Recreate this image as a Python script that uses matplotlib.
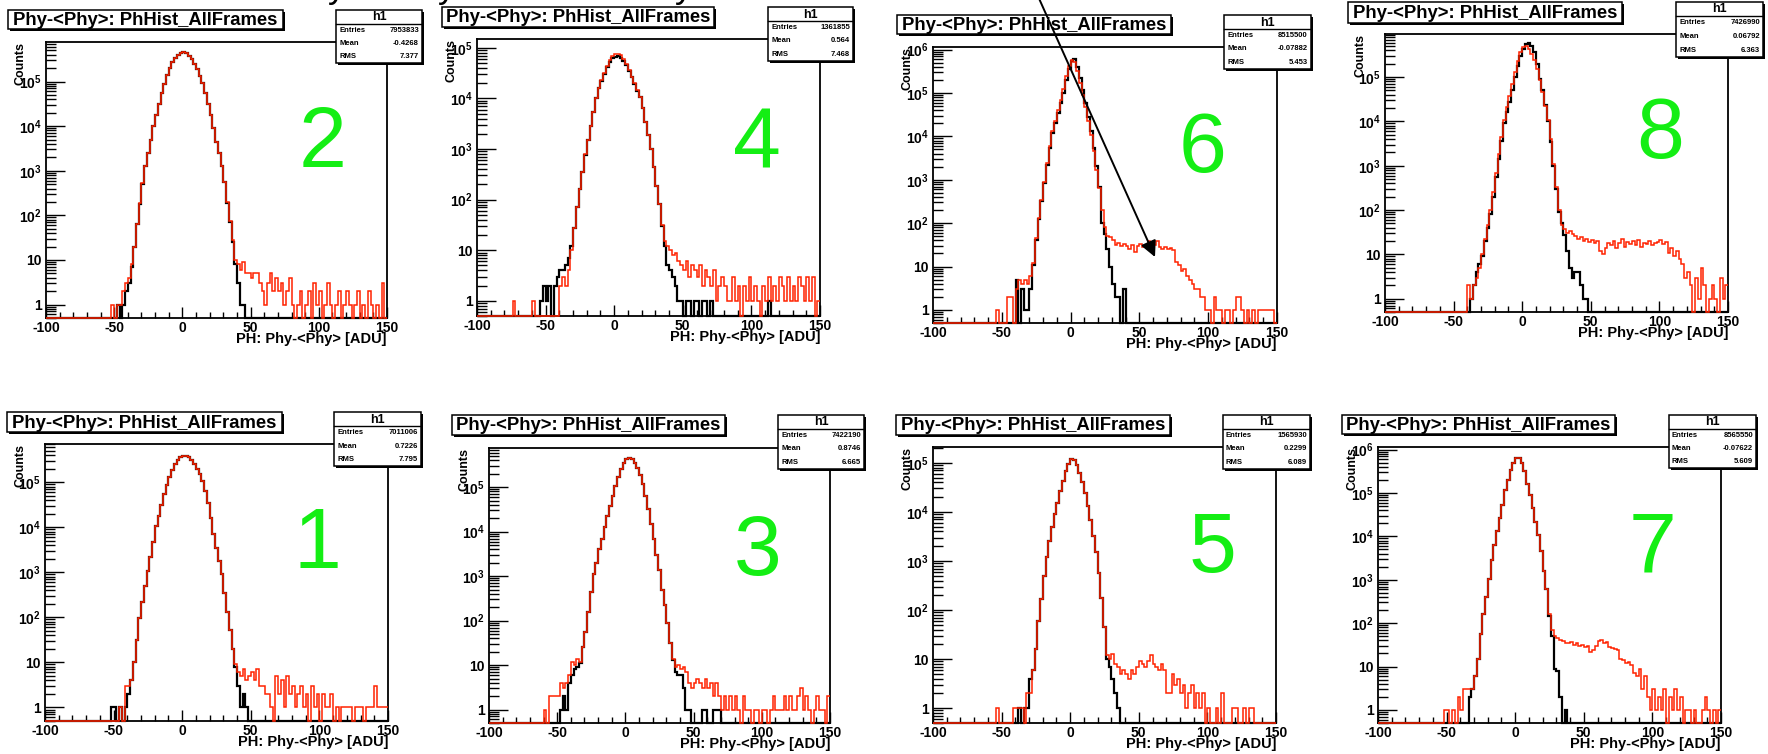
"""Eight ROOT-style pulse-height histograms (Phy-<Phy>), black vs red, log y."""
import numpy as np
import matplotlib
matplotlib.use("Agg")
import matplotlib.pyplot as plt
import matplotlib.ticker as ticker
from matplotlib.patches import Rectangle, FancyArrowPatch

plt.rcParams["font.family"] = ["Liberation Sans", "DejaVu Sans"]
plt.rcParams["font.weight"] = "bold"
plt.rcParams["mathtext.fontset"] = "custom"
plt.rcParams["mathtext.rm"] = "Liberation Sans:bold"
plt.rcParams["mathtext.it"] = "Liberation Sans:bold"
plt.rcParams["mathtext.bf"] = "Liberation Sans:bold"
plt.rcParams["axes.unicode_minus"] = False

# 2 ADU bins; first listed bin is -80..-78, last 148..150 (115 bins)
BIN_LO, BIN_HI, BIN_W = -80, 150, 2
X_MIN, X_MAX = -100, 150
YMIN = 0.5

BLACK_1 = [
    0, 0, 0, 0, 0, 0, 0, 0, 0, 0,
    0, 0, 0, 0, 1, 1, 0, 1, 0, 1,
    2, 4, 10, 32, 95, 220, 500, 1070, 2200, 4800,
    1.05e4, 1.8e4, 3.2e4, 5.4e4, 8.7e4, 1.3e5, 1.9e5, 2.5e5, 3.2e5, 3.6e5,
    3.9e5, 3.85e5, 3.6e5, 3.2e5, 2.6e5, 2e5, 1.5e5, 1.07e5, 6.3e4, 3.4e4,
    1.6e4, 7e3, 3.5e3, 1.8e3, 900, 350, 130, 52, 20, 8,
    3, 1, 2, 1, 0, 0, 0, 0, 0, 0,
    0, 0, 0, 0, 0, 0, 0, 0, 0, 0,
    0, 0, 0, 0, 0, 0, 0, 0, 0, 0,
    0, 0, 0, 0, 0, 0, 0, 0, 0, 0,
    0, 0, 0, 0, 0, 0, 0, 0, 0, 0,
    0, 0, 0, 0, 0,
]
RED_1 = [
    0, 0, 0, 0, 0, 0, 0, 0, 0, 0,
    0, 0, 0, 0, 0, 0, 0, 1, 0, 3,
    3, 4, 10, 32, 95, 220, 500, 1070, 2200, 4800,
    1.05e4, 1.8e4, 3.2e4, 5.4e4, 8.7e4, 1.3e5, 1.9e5, 2.5e5, 3.2e5, 3.6e5,
    3.9e5, 3.85e5, 3.6e5, 3.2e5, 2.6e5, 2e5, 1.5e5, 1.07e5, 6.3e4, 3.4e4,
    1.6e4, 7e3, 3.5e3, 1.8e3, 900, 350, 130, 52, 20, 9,
    6, 5, 7, 4, 5, 6, 4, 7, 3, 3,
    2, 2, 1, 0, 5, 2, 4, 1, 5, 2,
    3, 1, 2, 3, 1, 2, 0, 3, 1, 2,
    0, 2, 1, 1, 2, 0, 1, 0, 1, 1,
    1, 1, 0, 1, 1, 1, 0, 1, 1, 1,
    3, 1, 1, 1, 1,
]
BLACK_2 = [
    0, 0, 0, 0, 0, 0, 0, 0, 0, 0,
    0, 0, 0, 0, 0, 0, 1, 0, 1, 2,
    3, 7, 20, 63, 180, 500, 1260, 2500, 5000, 1e4,
    1.8e4, 3.2e4, 5.6e4, 9e4, 1.4e5, 2e5, 2.7e5, 3.4e5, 4e5, 4.4e5,
    4.5e5, 4.3e5, 3.8e5, 3.2e5, 2.5e5, 1.9e5, 1.3e5, 9.5e4, 5.6e4, 3.2e4,
    1.8e4, 9e3, 4.5e3, 2.5e3, 1.3e3, 560, 190, 70, 25, 8,
    3, 1, 1, 0, 0, 0, 0, 0, 0, 0,
    0, 0, 0, 0, 0, 0, 0, 0, 0, 0,
    0, 0, 0, 0, 0, 0, 0, 0, 0, 0,
    0, 0, 0, 0, 0, 0, 0, 0, 0, 0,
    0, 0, 0, 0, 0, 0, 0, 0, 0, 0,
    0, 0, 0, 0, 0,
]
RED_2 = [
    0, 0, 0, 0, 0, 0, 0, 0, 0, 0,
    0, 0, 0, 0, 1, 0, 1, 1, 2, 3,
    4, 8, 20, 63, 190, 520, 1260, 2500, 5000, 1e4,
    1.8e4, 3.2e4, 5.6e4, 9e4, 1.4e5, 2e5, 2.7e5, 3.4e5, 4e5, 4.4e5,
    4.5e5, 4.3e5, 3.8e5, 3.2e5, 2.5e5, 1.9e5, 1.3e5, 9.5e4, 5.6e4, 3.2e4,
    1.8e4, 9e3, 4.5e3, 2.5e3, 1.3e3, 560, 200, 75, 28, 10,
    8, 6, 9, 5, 5, 4, 5, 5, 3, 2,
    1, 3, 5, 2, 4, 2, 3, 1, 2, 4,
    1, 0, 1, 2, 0, 1, 2, 0, 3, 1,
    2, 0, 1, 3, 1, 0, 1, 2, 0, 1,
    2, 1, 0, 1, 2, 0, 1, 0, 2, 1,
    0, 1, 0, 3, 0,
]
BLACK_3 = [
    0, 0, 0, 0, 0, 0, 0, 0, 0, 0,
    0, 0, 0, 0, 0, 0, 1, 2, 1, 4,
    6, 8, 9, 11, 25, 56, 160, 450, 1100, 2000,
    4e3, 7e3, 1.3e4, 2.2e4, 3.7e4, 6.3e4, 1.07e5, 1.7e5, 2.5e5, 3.5e5,
    4.3e5, 4.6e5, 4.4e5, 3.5e5, 2.7e5, 1.9e5, 1.2e5, 6.3e4, 3.2e4, 1.5e4,
    6.8e3, 3e3, 1.35e3, 500, 220, 90, 32, 13, 7, 6,
    6, 3, 1, 1, 0, 0, 0, 0, 1, 1,
    0, 0, 1, 1, 1, 0, 0, 0, 0, 0,
    0, 0, 0, 0, 0, 0, 0, 0, 0, 0,
    0, 0, 0, 0, 0, 0, 0, 0, 0, 0,
    0, 0, 0, 0, 0, 0, 0, 0, 0, 0,
    0, 0, 0, 0, 0,
]
RED_3 = [
    0, 0, 0, 0, 0, 0, 0, 0, 0, 0,
    1, 0, 2, 2, 2, 2, 4, 3, 4, 6,
    12, 10, 14, 12, 25, 56, 160, 450, 1100, 2000,
    4e3, 7e3, 1.3e4, 2.2e4, 3.7e4, 6.3e4, 1.07e5, 1.7e5, 2.5e5, 3.5e5,
    4.3e5, 4.6e5, 4.4e5, 3.5e5, 2.7e5, 1.9e5, 1.2e5, 6.3e4, 3.2e4, 1.5e4,
    6.8e3, 3e3, 1.35e3, 500, 220, 90, 32, 14, 9, 10,
    8, 9, 7, 4, 3, 4, 5, 4, 3, 5,
    3, 4, 2, 4, 2, 1, 2, 1, 2, 1,
    2, 1, 0, 2, 1, 1, 0, 1, 1, 0,
    1, 1, 0, 1, 2, 1, 1, 1, 2, 1,
    2, 1, 1, 2, 3, 1, 2, 1, 0, 1,
    2, 1, 1, 0, 2,
]
BLACK_4 = [
    0, 0, 0, 0, 0, 0, 0, 0, 0, 0,
    0, 0, 0, 1, 2, 1, 2, 0, 2, 3,
    4, 4, 5, 7, 12, 28, 70, 160, 350, 760,
    1.5e3, 2.8e3, 5.3e3, 1e4, 1.6e4, 2.2e4, 3.1e4, 4.2e4, 5.3e4, 6.2e4,
    6.7e4, 6.8e4, 6.4e4, 5.6e4, 4.6e4, 3.5e4, 2.6e4, 1.9e4, 1.4e4, 1.05e4,
    6.5e3, 3.5e3, 1.9e3, 1e3, 440, 190, 83, 30, 12, 5,
    4, 3, 2, 1, 1, 0, 1, 1, 0, 1,
    1, 0, 1, 1, 0, 1, 0, 0, 0, 0,
    0, 0, 0, 0, 0, 0, 0, 0, 0, 0,
    0, 0, 0, 0, 0, 0, 1, 0, 0, 0,
    0, 0, 0, 0, 0, 0, 0, 0, 0, 0,
    0, 0, 0, 0, 0,
]
RED_4 = [
    0, 0, 0, 1, 0, 0, 0, 0, 0, 0,
    1, 0, 0, 0, 0, 0, 0, 0, 0, 0,
    2, 3, 2, 4, 10, 28, 70, 160, 350, 800,
    1.5e3, 2.9e3, 5.5e3, 1e4, 1.6e4, 2.3e4, 3.2e4, 4.3e4, 5.7e4, 6.8e4,
    7.5e4, 7.6e4, 7.1e4, 6e4, 4.8e4, 3.6e4, 2.7e4, 2e4, 1.45e4, 1.07e4,
    6.5e3, 3.5e3, 1.9e3, 1e3, 440, 190, 83, 32, 15, 12,
    10, 8, 9, 6, 5, 4, 6, 3, 5, 4,
    3, 5, 2, 4, 3, 2, 4, 1, 2, 3,
    2, 1, 1, 3, 1, 2, 0, 2, 1, 3,
    1, 2, 1, 0, 2, 1, 3, 1, 2, 1,
    3, 2, 1, 3, 1, 2, 1, 3, 2, 1,
    3, 1, 3, 0, 1,
]
BLACK_5 = [
    0, 0, 0, 0, 0, 0, 0, 0, 0, 0,
    0, 0, 0, 0, 0, 0, 0, 0, 0, 0,
    0, 1, 0, 1, 1, 4, 6, 16, 60, 170,
    500, 1.2e3, 2.5e3, 5e3, 9e3, 1.5e4, 2.7e4, 4.3e4, 6.8e4, 9.5e4,
    1.2e5, 1.12e5, 9e4, 6.3e4, 4e4, 2.4e4, 1.35e4, 6.8e3, 3.2e3, 1.5e3,
    560, 180, 45, 10, 7, 4, 2, 1, 0, 0,
    0, 0, 0, 0, 0, 0, 0, 0, 0, 0,
    0, 0, 0, 0, 0, 0, 0, 0, 0, 0,
    0, 0, 0, 0, 0, 0, 0, 0, 0, 0,
    0, 0, 0, 0, 0, 0, 0, 0, 0, 0,
    0, 0, 0, 0, 0, 0, 0, 0, 0, 0,
    0, 0, 0, 0, 0,
]
RED_5 = [
    0, 0, 0, 0, 0, 0, 0, 0, 0, 0,
    0, 0, 0, 1, 0, 0, 0, 0, 0, 1,
    1, 1, 1, 0, 2, 2, 6, 16, 60, 170,
    500, 1.2e3, 2.5e3, 5e3, 9e3, 1.5e4, 2.7e4, 4.3e4, 6.8e4, 9.5e4,
    1.2e5, 1.12e5, 9e4, 6.3e4, 4e4, 2.4e4, 1.35e4, 6.8e3, 3.2e3, 1.5e3,
    560, 180, 45, 12, 10, 13, 8, 7, 5, 6,
    5, 4, 6, 5, 7, 9, 8, 7, 9, 12,
    8, 7, 6, 8, 6, 2, 2, 5, 3, 4,
    2, 3, 1, 2, 3, 1, 2, 1, 2, 0,
    1, 0, 0, 1, 0, 2, 0, 0, 0, 1,
    1, 0, 0, 1, 0, 1, 1, 0, 0, 0,
    0, 0, 0, 0, 0,
]
BLACK_6 = [
    0, 0, 0, 0, 0, 0, 0, 0, 0, 0,
    0, 0, 0, 0, 0, 0, 0, 0, 0, 0,
    5, 0, 3, 1, 1, 3, 11, 40, 126, 320,
    830, 2.2e3, 5.5e3, 1.2e4, 2e4, 3.5e4, 6e4, 1e5, 2e5, 3.5e5,
    5.6e5, 6.2e5, 4e5, 2.2e5, 1.2e5, 6e4, 2.8e4, 1.3e4, 5.4e3, 2.1e3,
    700, 100, 56, 25, 10, 4, 2, 2, 0, 3,
    0, 0, 0, 0, 0, 0, 0, 0, 0, 0,
    0, 0, 0, 0, 0, 0, 0, 0, 0, 0,
    0, 0, 0, 0, 0, 0, 0, 0, 0, 0,
    0, 0, 0, 0, 0, 0, 0, 0, 0, 0,
    0, 0, 0, 0, 0, 0, 0, 0, 0, 0,
    0, 0, 0, 0, 0,
]
RED_6 = [
    0, 0, 0, 0, 0, 0, 0, 0, 0, 0,
    0, 0, 0, 1, 0, 0, 0, 2, 2, 0,
    3, 5, 4, 5, 4, 6, 12, 45, 130, 350,
    900, 2.4e3, 6e3, 1.3e4, 2.3e4, 4e4, 7e4, 1.25e5, 2.5e5, 4.3e5,
    5.8e5, 5.2e5, 3.2e5, 1.7e5, 9e4, 4.8e4, 2.3e4, 1.1e4, 4.5e3, 1.7e3,
    650, 200, 80, 50, 48, 40, 32, 35, 30, 33,
    30, 25, 32, 22, 30, 33, 28, 30, 38, 35,
    32, 38, 28, 26, 28, 25, 27, 24, 13, 11,
    8, 9, 6, 5, 4, 3, 3, 2, 2, 1,
    1, 0, 2, 1, 1, 0, 1, 1, 0, 1,
    2, 2, 1, 0, 1, 0, 1, 0, 1, 1,
    1, 1, 1, 1, 0,
]
BLACK_7 = [
    0, 0, 0, 0, 0, 0, 0, 0, 0, 0,
    0, 0, 0, 0, 0, 0, 0, 0, 0, 0,
    0, 0, 0, 2, 3, 6, 15, 55, 160, 400,
    1.05e3, 2.8e3, 6.5e3, 1.3e4, 2.6e4, 5.3e4, 1.15e5, 2e5, 3.4e5, 5e5,
    6.5e5, 6.5e5, 5e5, 3.2e5, 1.6e5, 9e4, 4.5e4, 2.2e4, 1.05e4, 4.5e3,
    1.6e3, 600, 150, 50, 9, 8, 2, 0, 1, 0,
    0, 0, 0, 0, 0, 0, 0, 0, 0, 0,
    0, 0, 0, 0, 0, 0, 0, 0, 0, 0,
    0, 0, 0, 0, 0, 0, 0, 0, 0, 0,
    0, 0, 0, 0, 0, 0, 0, 0, 0, 0,
    0, 0, 0, 0, 0, 0, 0, 0, 0, 0,
    0, 0, 0, 0, 0,
]
RED_7 = [
    0, 0, 0, 0, 0, 0, 0, 0, 0, 0,
    0, 0, 0, 0, 1, 1, 0, 1, 0, 2,
    1, 3, 3, 3, 3, 6, 15, 55, 160, 400,
    1.05e3, 2.8e3, 6.5e3, 1.3e4, 2.6e4, 5.3e4, 1.15e5, 2e5, 3.4e5, 5e5,
    6.5e5, 6.5e5, 5e5, 3.2e5, 1.6e5, 9e4, 4.5e4, 2.2e4, 1.05e4, 4.5e3,
    1.6e3, 600, 160, 70, 50, 45, 40, 38, 35, 34,
    36, 32, 35, 30, 32, 28, 30, 22, 24, 30,
    38, 40, 35, 36, 28, 27, 25, 24, 15, 14,
    12, 13, 11, 7, 6, 9, 3, 6, 2, 1,
    3, 1, 2, 1, 3, 0, 2, 1, 3, 1,
    2, 0, 1, 1, 0, 1, 0, 0, 1, 2,
    1, 0, 1, 0, 1,
]
BLACK_8 = [
    0, 0, 0, 0, 0, 0, 0, 0, 0, 0,
    0, 0, 0, 0, 0, 0, 0, 0, 0, 0,
    0, 1, 2, 4, 6, 9, 20, 40, 80, 200,
    550, 1.4e3, 3.6e3, 9e3, 1.6e4, 2.8e4, 5e4, 1e5, 1.8e5, 3e5,
    4.3e5, 5.5e5, 5.9e5, 5e5, 3.6e5, 2e5, 9e4, 5e4, 2.4e4, 1e4,
    3.5e3, 1e3, 300, 90, 50, 28, 12, 5, 3, 4,
    4, 2, 1, 1, 0, 0, 0, 0, 0, 0,
    0, 0, 0, 0, 0, 0, 0, 0, 0, 0,
    0, 0, 0, 0, 0, 0, 0, 0, 0, 0,
    0, 0, 0, 0, 0, 0, 0, 0, 0, 0,
    0, 0, 0, 0, 0, 0, 0, 0, 0, 0,
    0, 0, 0, 0, 0,
]
RED_8 = [
    0, 0, 0, 0, 0, 0, 0, 0, 0, 0,
    0, 0, 0, 0, 0, 0, 0, 0, 0, 0,
    2, 1, 2, 3, 5, 10, 22, 45, 100, 250,
    700, 1.8e3, 4.5e3, 1.1e4, 2.1e4, 3.8e4, 7e4, 1.3e5, 2.3e5, 3.6e5,
    4.8e5, 5e5, 4.4e5, 3.4e5, 2.4e5, 1.5e5, 8.5e4, 4.5e4, 2.2e4, 1.1e4,
    4e3, 1.1e3, 330, 100, 45, 38, 30, 34, 29, 26,
    22, 25, 20, 22, 19, 21, 18, 20, 12, 10,
    14, 18, 16, 20, 14, 18, 22, 15, 19, 17,
    20, 16, 21, 15, 18, 17, 20, 16, 18, 19,
    21, 17, 19, 11, 14, 9, 12, 8, 6, 3,
    4, 2, 0, 3, 1, 5, 2, 0, 1, 2,
    1, 0, 3, 1, 2,
]

# statistics box contents: entries, mean, rms
ENTRIES = {1: "7011006", 2: "7953833", 3: "7422190", 4: "1361855",
           5: "1565930", 6: "8515500", 7: "8565550", 8: "7426990"}
MEANS = {1: "0.7226", 2: "-0.4268", 3: "0.8746", 4: "0.564",
         5: "0.2299", 6: "-0.07882", 7: "-0.07622", 8: "0.06792"}
RMSS = {1: "7.795", 2: "7.377", 3: "6.665", 4: "7.468",
        5: "6.089", 6: "5.453", 7: "5.609", 8: "6.363"}
YMAX = {1: 7.1e5, 2: 7.7e5, 3: 7.6e5, 4: 1.5e5,
        5: 2.1e5, 6: 1.15e6, 7: 1.15e6, 8: 9.4e5}

TITLE = "Phy-<Phy>: PhHist_AllFrames"
XLABEL = "PH: Phy-<Phy> [ADU]"
YLABEL = "Counts"

# layout in pixels (x from left, y from top)
W, H = 1768, 754
FRAMES = {2: (46, 42, 387, 318), 4: (477, 39, 820, 316),
          6: (933, 47, 1277, 323), 8: (1385, 34, 1728, 312),
          1: (45, 444, 388, 721), 3: (489, 448, 830, 723),
          5: (933, 447, 1276, 723), 7: (1378, 447, 1721, 723)}
TITLE_BOX = {2: (8, 10, 283, 29), 4: (442, 7, 714, 27),
             6: (897, 15, 1171, 34), 8: (1348, 2, 1622, 23),
             1: (7, 412, 282, 432), 3: (452, 415, 725, 435),
             5: (896, 415, 1170, 435), 7: (1342, 415, 1615, 434)}
STATS_BOX = {2: (336, 10, 422, 63), 4: (768, 7, 853, 61),
             6: (1224, 15, 1311, 69), 8: (1676, 2, 1763, 57),
             1: (334, 412, 421, 466), 3: (778, 415, 864, 469),
             5: (1223, 415, 1310, 469), 7: (1669, 415, 1756, 468)}
DIGIT_POS = {2: (323, 167), 4: (757, 167), 6: (1203, 172), 8: (1660, 158),
             1: (317, 568), 3: (758, 575), 5: (1212, 572), 7: (1653, 572)}

RED = "#ff2200"
GREEN = "#14ee14"

fig = plt.figure(figsize=(W / 100, H / 100), dpi=100)
fig.patch.set_facecolor("white")


def fx(x):
    return x / W


def fy(y):
    return 1 - y / H


def boxed(x0, y0, x1, y1):
    # ROOT pave: white box with a thin dark shadow bottom/right
    fig.add_artist(Rectangle((fx(x0 + 2), fy(y1 + 2)), (x1 - x0) / W,
                             (y1 - y0) / H, transform=fig.transFigure,
                             facecolor="black", edgecolor="none", zorder=4))
    fig.add_artist(Rectangle((fx(x0), fy(y1)), (x1 - x0) / W, (y1 - y0) / H,
                             transform=fig.transFigure, facecolor="white",
                             edgecolor="black", lw=1.1, zorder=5))


def ytick_fmt(v, pos):
    k = int(round(np.log10(v)))
    if k == 0:
        return "1"
    if k == 1:
        return "10"
    return r"$10^{%d}$" % k


def draw_panel(n, black, red):
    L, T, R, B = FRAMES[n]
    ax = fig.add_axes([fx(L), fy(B), (R - L) / W, (B - T) / H])
    edges = np.arange(X_MIN, BIN_HI + BIN_W, BIN_W)
    pad = np.zeros((BIN_LO - X_MIN) // BIN_W)
    for vals, color, lw, z in ((black, "black", 1.6, 2), (red, RED, 1.1, 3)):
        v = np.concatenate([pad, np.asarray(vals, dtype=float)])
        ax.stairs(np.maximum(v, YMIN), edges, baseline=None, color=color,
                  lw=lw, zorder=z, clip_on=False)

    ax.set_yscale("log")
    ax.set_ylim(YMIN, YMAX[n])
    ax.set_xlim(X_MIN, X_MAX)
    ax.yaxis.set_major_locator(ticker.LogLocator(base=10, numticks=20))
    ax.yaxis.set_minor_locator(
        ticker.LogLocator(base=10, subs=np.arange(2, 10), numticks=20))
    ax.yaxis.set_major_formatter(ticker.FuncFormatter(ytick_fmt))
    ax.yaxis.set_minor_formatter(ticker.NullFormatter())
    ax.xaxis.set_major_locator(ticker.MultipleLocator(50))
    ax.xaxis.set_minor_locator(ticker.MultipleLocator(10))
    ax.tick_params(axis="y", which="major", direction="in", length=14,
                   width=1.0, labelsize=10, pad=3, right=False)
    ax.tick_params(axis="y", which="minor", direction="in", length=7,
                   width=1.0, right=False)
    ax.tick_params(axis="x", which="major", direction="in", length=8,
                   width=1.0, labelsize=10, pad=2, top=False)
    ax.tick_params(axis="x", which="minor", direction="in", length=4,
                   width=1.0, top=False)
    for sp in ax.spines.values():
        sp.set_linewidth(1.3)
    # axis titles are drawn as figure text in ROOT positions below
    ax.xaxis.label.set_visible(False)
    ax.yaxis.label.set_visible(False)
    ax.xaxis.offsetText.set_visible(False)
    ax.yaxis.offsetText.set_visible(False)

    fig.text(fx(L - 25), fy(T), YLABEL, rotation=90, ha="center", va="top",
             fontsize=9)
    fig.text(fx(R), fy(B + 21), XLABEL, ha="right", va="center",
             fontsize=10.5)

    x0, y0, x1, y1 = TITLE_BOX[n]
    boxed(x0, y0, x1, y1)
    fig.text(fx((x0 + x1) / 2), fy((y0 + y1) / 2 + 1), TITLE, ha="center",
             va="center", fontsize=13.3, zorder=6)

    x0, y0, x1, y1 = STATS_BOX[n]
    boxed(x0, y0, x1, y1)
    head = 14
    fig.add_artist(plt.Line2D([fx(x0), fx(x1)], [fy(y0 + head)] * 2,
                              transform=fig.transFigure, color="black",
                              lw=1.0, zorder=6))
    fig.text(fx((x0 + x1) / 2), fy(y0 + head / 2 + 0.5), "h1", ha="center",
             va="center", fontsize=9, zorder=6)
    row_h = (y1 - y0 - head) / 3
    rows = (("Entries", ENTRIES[n]), ("Mean", MEANS[n]), ("RMS", RMSS[n]))
    for i, (lab, val) in enumerate(rows):
        yc = y0 + head + row_h * (i + 0.5)
        fig.text(fx(x0 + 3), fy(yc), lab, ha="left", va="center",
                 fontsize=5.5, zorder=6)
        fig.text(fx(x1 - 3), fy(yc), val, ha="right", va="center",
                 fontsize=5.5, zorder=6)

    cx, base = DIGIT_POS[n]
    fig.text(fx(cx), fy(base), str(n), ha="center", va="baseline",
             fontsize=62, color=GREEN, fontweight="normal", zorder=6)


SERIES = {1: (BLACK_1, RED_1), 2: (BLACK_2, RED_2), 3: (BLACK_3, RED_3),
          4: (BLACK_4, RED_4), 5: (BLACK_5, RED_5), 6: (BLACK_6, RED_6),
          7: (BLACK_7, RED_7), 8: (BLACK_8, RED_8)}
for n, (blk, rd) in SERIES.items():
    draw_panel(n, blk, rd)

# descenders of the slide heading cut off at the top edge
for xc in (337, 447, 684):
    fig.text(fx(xc), 1 + 3 / H, "y", ha="center", va="baseline",
             fontsize=26, fontweight="normal")

# arrow pointing at the shoulder in panel 6
fig.add_artist(FancyArrowPatch((fx(1037), fy(-6)), (fx(1155), fy(257)),
                               transform=fig.transFigure, arrowstyle="-|>",
                               mutation_scale=24, lw=1.4, color="black",
                               shrinkA=0, shrinkB=0, zorder=8))

fig.savefig("out.png", dpi=100, facecolor="white")
